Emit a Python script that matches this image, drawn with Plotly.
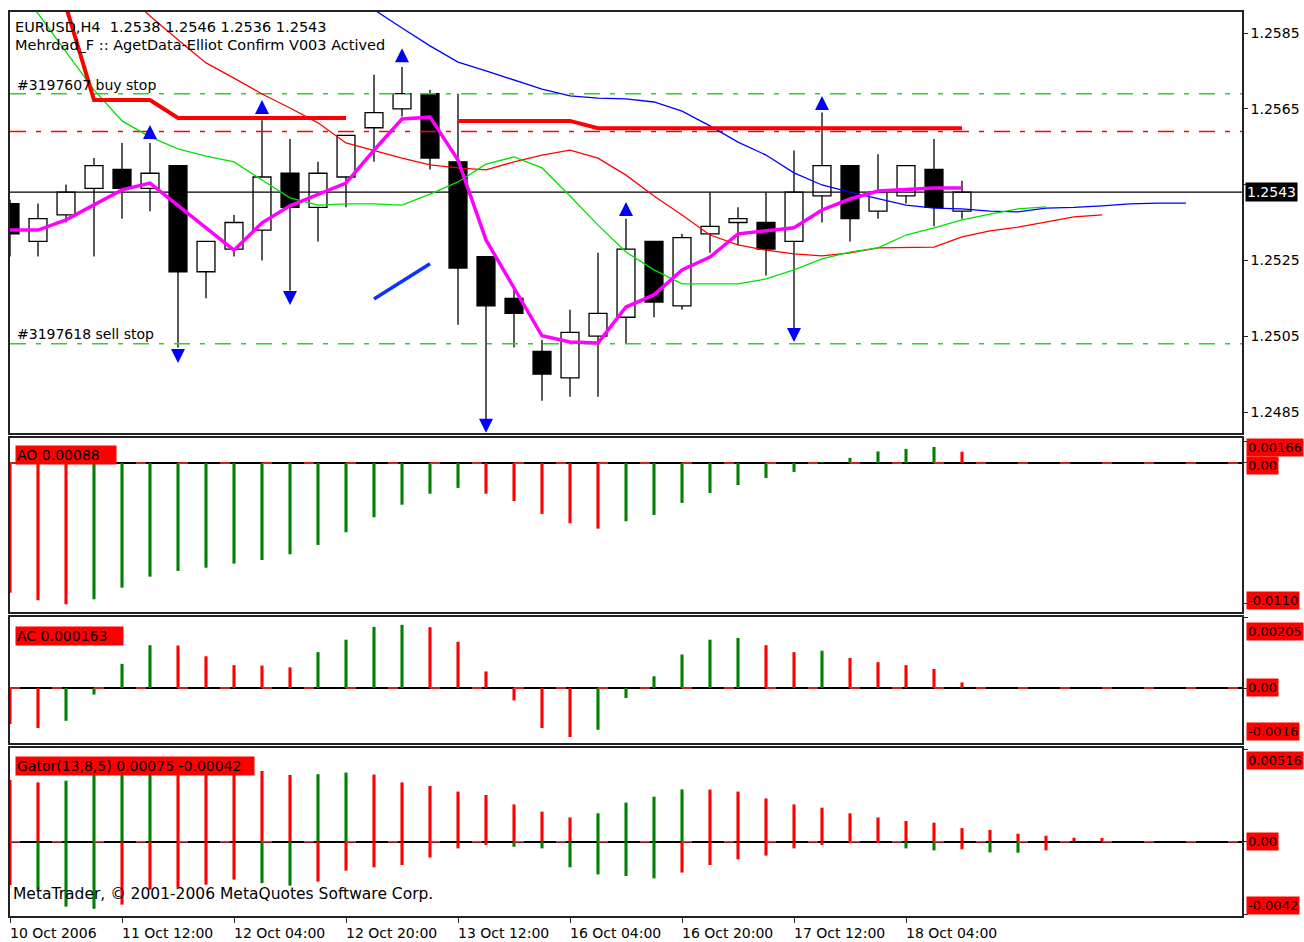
import plotly.graph_objects as go

W, H = 1304, 942
FONT = "DejaVu Sans"

# ---------------- data ----------------
bars = list(range(35))
opens = [1.2540, 1.2530, 1.2537, 1.2544, 1.2549, 1.2544, 1.2550, 1.2522, 1.2528, 1.2533,
         1.2548, 1.2539, 1.2547, 1.2560, 1.2565, 1.2569, 1.2551, 1.2526, 1.2515, 1.2501,
         1.2494, 1.2505, 1.2510, 1.2530, 1.2513, 1.2532, 1.2535, 1.2535, 1.2530, 1.2542,
         1.2550, 1.2538, 1.2542, 1.2549, 1.2538]
highs = [1.2541, 1.2540, 1.2545, 1.2552, 1.2556, 1.2556, 1.2550, 1.2530, 1.2537, 1.2562,
         1.2557, 1.2551, 1.2558, 1.2574, 1.2576, 1.2570, 1.2569, 1.2526, 1.2518, 1.2504,
         1.2512, 1.2527, 1.2536, 1.2530, 1.2532, 1.2543, 1.2539, 1.2543, 1.2554, 1.2564,
         1.2550, 1.2553, 1.2550, 1.2557, 1.2546]
lows = [1.2526, 1.2526, 1.2535, 1.2526, 1.2536, 1.2538, 1.2502, 1.2515, 1.2526, 1.2525,
        1.2517, 1.2530, 1.2539, 1.2551, 1.2563, 1.2549, 1.2508, 1.2482, 1.2502, 1.2488,
        1.2489, 1.2489, 1.2503, 1.2510, 1.2512, 1.2527, 1.2529, 1.2521, 1.2507, 1.2535,
        1.2530, 1.2536, 1.2540, 1.2534, 1.2536]
closes = [1.2532, 1.2536, 1.2543, 1.2550, 1.2544, 1.2548, 1.2522, 1.2530, 1.2535, 1.2547,
          1.2539, 1.2548, 1.2558, 1.2564, 1.2569, 1.2552, 1.2523, 1.2513, 1.2511, 1.2495,
          1.2506, 1.2511, 1.2528, 1.2514, 1.2531, 1.2534, 1.2536, 1.2528, 1.2543, 1.2550,
          1.2536, 1.2543, 1.2550, 1.2539, 1.2543]

magenta = [1.25330, 1.25330, 1.25357, 1.25396, 1.25436, 1.25454, 1.25396, 1.25336, 1.25277, 1.25349,
           1.25394, 1.25425, 1.25454, 1.25541, 1.25623, 1.25628, 1.25515, 1.25304, 1.25177, 1.25051,
           1.25035, 1.25032, 1.25127, 1.25159, 1.25225, 1.25259, 1.25320, 1.25328, 1.25336, 1.25383,
           1.25412, 1.25433, 1.25438, 1.25441, 1.25441]

teeth_x = list(range(4, 40))
teeth = [1.25963, 1.25895, 1.25832, 1.25771, 1.25731, 1.25689, 1.25652, 1.25613, 1.25560, 1.25539,
         1.25520, 1.25502, 1.25494, 1.25489, 1.25510, 1.25528, 1.25541, 1.25520, 1.25475, 1.25420,
         1.25370, 1.25317, 1.25291, 1.25277, 1.25267, 1.25262, 1.25270, 1.25283, 1.25285, 1.25285,
         1.25312, 1.25328, 1.25338, 1.25351, 1.25365, 1.25370]

lips_x = list(range(0, 38))
lips = [1.26003, 1.25900, 1.25800, 1.25700, 1.25618, 1.25576, 1.25544, 1.25525, 1.25510, 1.25462,
        1.25415, 1.25396, 1.25399, 1.25399, 1.25396, 1.25425, 1.25457, 1.25504, 1.25523, 1.25494,
        1.25420, 1.25343, 1.25272, 1.25225, 1.25188, 1.25188, 1.25188, 1.25201, 1.25225, 1.25254,
        1.25272, 1.25283, 1.25317, 1.25336, 1.25357, 1.25372, 1.25386, 1.25391]

jaw_x = list(range(12, 43))
jaw = [1.25960, 1.25911, 1.25863, 1.25816, 1.25773, 1.25750, 1.25726, 1.25702, 1.25684, 1.25678,
       1.25676, 1.25668, 1.25644, 1.25605, 1.25562, 1.25528, 1.25481, 1.25449, 1.25430, 1.25412,
       1.25396, 1.25388, 1.25386, 1.25380, 1.25378, 1.25388, 1.25390, 1.25394, 1.25399, 1.25401,
       1.25401]

stop_x = list(range(2, 35))
stop_line = [1.25920, 1.25673, 1.25673, 1.25673,
             1.25626, 1.25626, 1.25626, 1.25626, 1.25626, 1.25626, 1.25626,
             None, None, None,
             1.25618, 1.25618, 1.25618, 1.25618, 1.25618,
             1.25599, 1.25599, 1.25599, 1.25599, 1.25599, 1.25599, 1.25599,
             1.25599, 1.25599, 1.25599, 1.25599, 1.25599, 1.25599, 1.25599]

trend_x = [13, 15]
trend_y = [1.25148, 1.25241]

fr_up_x = [5, 9, 14, 22, 29]
fr_up_y = [1.25607, 1.25673, 1.25810, 1.25404, 1.25684]
fr_dn_x = [6, 10, 17, 28]
fr_dn_y = [1.24979, 1.25132, 1.24795, 1.25035]

buy_stop = 1.2569
red_level = 1.2559
sell_stop = 1.2503
last_price = 1.2543

price_ticks = [1.2485, 1.2505, 1.2525, 1.2545, 1.2565, 1.2585]
price_tick_text = ["1.2485", "1.2505", "1.2525", "", "1.2565", "1.2585"]

ao = [-0.01013, -0.01072, -0.01104, -0.01065, -0.00974, -0.00888, -0.00843, -0.00818, -0.00786, -0.00758,
      -0.00713, -0.00640, -0.00541, -0.00424, -0.00326, -0.00240, -0.00195, -0.00240, -0.00297, -0.00398,
      -0.00471, -0.00513, -0.00455, -0.00406, -0.00312, -0.00234, -0.00172, -0.00117, -0.00070, 0.00005,
      0.00040, 0.00090, 0.00110, 0.00125, 0.00088]

ac = [-0.00104, -0.00116, -0.00095, -0.00019, 0.00070, 0.00124, 0.00123, 0.00092, 0.00066, 0.00065,
      0.00060, 0.00104, 0.00140, 0.00177, 0.00183, 0.00176, 0.00134, 0.00048, -0.00036, -0.00116,
      -0.00142, -0.00121, -0.00029, 0.00034, 0.00097, 0.00140, 0.00145, 0.00124, 0.00104, 0.00108,
      0.00087, 0.00075, 0.00066, 0.00055, 0.000163]

gator_up_x = list(range(0, 40))
gator_up = [0.00341, 0.00328, 0.00337, 0.00387, 0.00431, 0.00465, 0.00453, 0.00437, 0.00415, 0.00391,
            0.00369, 0.00373, 0.00382, 0.00371, 0.00328, 0.00308, 0.00277, 0.00258, 0.00206, 0.00166,
            0.00134, 0.00157, 0.00216, 0.00249, 0.00289, 0.00288, 0.00277, 0.00239, 0.00206, 0.00188,
            0.00157, 0.00134, 0.00114, 0.00105, 0.00075, 0.00065, 0.00044, 0.00033, 0.00022, 0.00020]
gator_dn_x = list(range(0, 38))
gator_dn = [-0.00239, -0.00265, -0.00359, -0.00371, -0.00348, -0.00265, -0.00254, -0.00238, -0.00210, -0.00229,
            -0.00243, -0.00221, -0.00160, -0.00142, -0.00129, -0.00088, -0.00037, -0.00018, -0.00028, -0.00037,
            -0.00142, -0.00181, -0.00190, -0.00203, -0.00171, -0.00129, -0.00098, -0.00077, -0.00037, -0.00018,
            -0.00008, -0.00005, -0.00037, -0.00048, -0.00042, -0.00059, -0.00061, -0.00048]

tick_bars = [0, 4, 8, 12, 16, 20, 24, 28, 32]
tick_labels = ["10 Oct 2006", "11 Oct 12:00", "12 Oct 04:00", "12 Oct 20:00", "13 Oct 12:00",
               "16 Oct 04:00", "16 Oct 20:00", "17 Oct 12:00", "18 Oct 04:00"]

# ---------------- helpers ----------------
def px_x(p):
    return p / W

def px_y(p):
    return 1 - p / H

def hist_colors(vals, use_abs=False):
    cols = []
    for i, v in enumerate(vals):
        if i == 0:
            cols.append("#FF0000")
            continue
        a, b = (abs(v), abs(vals[i - 1])) if use_abs else (v, vals[i - 1])
        cols.append("#008000" if a > b else "#FF0000")
    return cols

X_RANGE = [0, 44]
dom_x = [10 / W, 1242 / W]
dom_main = [px_y(433), px_y(12)]
dom_ao = [px_y(612), px_y(438)]
dom_ac = [px_y(743), px_y(617)]
dom_gt = [px_y(916), px_y(748)]

fig = go.Figure()

# ---------------- main: candles ----------------
body_base = [min(o, c) for o, c in zip(opens, closes)]
body_h = [max(abs(c - o), 0.00003) for o, c in zip(opens, closes)]
body_col = ["white" if c >= o else "black" for o, c in zip(opens, closes)]
fig.add_trace(go.Bar(x=bars, y=body_h, base=body_base, width=0.64,
                     marker=dict(color=body_col, line=dict(color="black", width=1.3)),
                     xaxis="x", yaxis="y", hoverinfo="skip"))

wx, wy = [], []
for i, o, h, l, c in zip(bars, opens, highs, lows, closes):
    top, bot = max(o, c), min(o, c)
    if h > top:
        wx += [i, i, None]; wy += [top, h, None]
    if l < bot:
        wx += [i, i, None]; wy += [l, bot, None]
fig.add_trace(go.Scatter(x=wx, y=wy, mode="lines", line=dict(color="black", width=1.3),
                         xaxis="x", yaxis="y", hoverinfo="skip"))

DASHDOT = "16px,10px,5px,10px"
for lvl, col in [(buy_stop, "#33CC33"), (sell_stop, "#33CC33"), (red_level, "#FF0000")]:
    fig.add_trace(go.Scatter(x=X_RANGE, y=[lvl, lvl], mode="lines",
                             line=dict(color=col, width=1.5, dash=DASHDOT),
                             xaxis="x", yaxis="y", hoverinfo="skip"))
fig.add_trace(go.Scatter(x=X_RANGE, y=[last_price, last_price], mode="lines",
                         line=dict(color="black", width=1.2), xaxis="x", yaxis="y", hoverinfo="skip"))

fig.add_trace(go.Scatter(x=jaw_x, y=jaw, mode="lines", line=dict(color="#0000FF", width=1.3),
                         xaxis="x", yaxis="y", hoverinfo="skip"))
fig.add_trace(go.Scatter(x=teeth_x, y=teeth, mode="lines", line=dict(color="#FF0000", width=1.3),
                         xaxis="x", yaxis="y", hoverinfo="skip"))
fig.add_trace(go.Scatter(x=lips_x, y=lips, mode="lines", line=dict(color="#00E000", width=1.3),
                         xaxis="x", yaxis="y", hoverinfo="skip"))
fig.add_trace(go.Scatter(x=stop_x, y=stop_line, mode="lines", line=dict(color="#FF0000", width=4),
                         connectgaps=False, xaxis="x", yaxis="y", hoverinfo="skip"))
fig.add_trace(go.Scatter(x=bars, y=magenta, mode="lines", line=dict(color="#FF00FF", width=3.5),
                         xaxis="x", yaxis="y", hoverinfo="skip"))
fig.add_trace(go.Scatter(x=trend_x, y=trend_y, mode="lines", line=dict(color="#1030FF", width=3.5),
                         xaxis="x", yaxis="y", hoverinfo="skip"))
fig.add_trace(go.Scatter(x=fr_up_x, y=fr_up_y, mode="markers",
                         marker=dict(symbol="arrow-up", size=14, color="#0000FF"),
                         xaxis="x", yaxis="y", hoverinfo="skip"))
fig.add_trace(go.Scatter(x=fr_dn_x, y=fr_dn_y, mode="markers",
                         marker=dict(symbol="arrow-down", size=14, color="#0000FF"),
                         xaxis="x", yaxis="y", hoverinfo="skip"))

# ---------------- sub windows ----------------
fig.add_trace(go.Bar(x=bars, y=ao, width=0.11, marker=dict(color=hist_colors(ao), line=dict(width=0)),
                     xaxis="x2", yaxis="y2", hoverinfo="skip"))
fig.add_trace(go.Bar(x=bars, y=ac, width=0.11, marker=dict(color=hist_colors(ac), line=dict(width=0)),
                     xaxis="x3", yaxis="y3", hoverinfo="skip"))
fig.add_trace(go.Bar(x=gator_up_x, y=gator_up, width=0.11,
                     marker=dict(color=hist_colors(gator_up), line=dict(width=0)),
                     xaxis="x4", yaxis="y4", hoverinfo="skip"))
fig.add_trace(go.Bar(x=gator_dn_x, y=gator_dn, width=0.11,
                     marker=dict(color=hist_colors(gator_dn, use_abs=True), line=dict(width=0)),
                     xaxis="x4", yaxis="y4", hoverinfo="skip"))
for xa, ya in [("x2", "y2"), ("x3", "y3"), ("x4", "y4")]:
    fig.add_trace(go.Scatter(x=X_RANGE, y=[0, 0], mode="lines",
                             line=dict(color="#FF3030", width=1.5, dash="10px,32px"),
                             xaxis=xa, yaxis=ya, hoverinfo="skip"))

# ---------------- axes ----------------
ax_common = dict(range=X_RANGE, showgrid=False, zeroline=False, showline=True, mirror=True,
                 linecolor="#222", linewidth=1.5, showticklabels=False, fixedrange=True)
fig.update_layout(
    xaxis=dict(domain=dom_x, anchor="y", **ax_common),
    xaxis2=dict(domain=dom_x, anchor="y2", matches="x", **ax_common),
    xaxis3=dict(domain=dom_x, anchor="y3", matches="x", **ax_common),
    xaxis4=dict(domain=dom_x, anchor="y4", matches="x", ticks="outside", ticklen=5,
                tickcolor="#222", tickvals=tick_bars, **ax_common),
)

sub_common = dict(side="right", showgrid=False, showline=True, mirror=True, linecolor="#222",
                  linewidth=1.5, ticks="outside", ticklen=4, tickcolor="#222",
                  showticklabels=False, zeroline=True, zerolinecolor="black", zerolinewidth=1.5,
                  fixedrange=True)
fig.update_layout(
    yaxis=dict(domain=dom_main, anchor="x", side="right", range=[1.247946, 1.259054],
               showgrid=False, zeroline=False, showline=True, mirror=True, linecolor="#222",
               linewidth=1.5, ticks="outside", ticklen=4, tickcolor="#222",
               tickvals=price_ticks, ticktext=price_tick_text, fixedrange=True,
               tickfont=dict(family=FONT, size=14, color="black")),
    yaxis2=dict(domain=dom_ao, anchor="x2", range=[-0.01164, 0.00195],
                tickvals=[-0.0110, 0, 0.00166], **sub_common),
    yaxis3=dict(domain=dom_ac, anchor="x3", range=[-0.001593, 0.002057],
                tickvals=[-0.0016, 0, 0.00205], **sub_common),
    yaxis4=dict(domain=dom_gt, anchor="x4", range=[-0.00411, 0.00518],
                tickvals=[-0.0040, 0, 0.00510], **sub_common),
)

# ---------------- texts ----------------
ann = []

def txt(x, y, s, size=14, color="black", bg=None, xanchor="left", width=None):
    d = dict(x=px_x(x), y=px_y(y), xref="paper", yref="paper", text=s, showarrow=False,
             xanchor=xanchor, yanchor="middle", font=dict(family=FONT, size=size, color=color),
             borderpad=1)
    if bg:
        d["bgcolor"] = bg
    if width:
        d["width"] = width
        d["align"] = "left"
    ann.append(d)

txt(13, 27, "EURUSD,H4  1.2538 1.2546 1.2536 1.2543", size=14.5)
txt(13, 45, "Mehrdad_F :: AgetData-Elliot Confirm V003 Actived", size=14.5)
txt(15, 85, "#3197607 buy stop")
txt(15, 334, "#3197618 sell stop")
txt(11, 894, "MetaTrader, © 2001-2006 MetaQuotes Software Corp.", size=15.5)

txt(1245, 192, "1.2543", color="white", bg="black")

txt(15, 455, "AO 0.00088", bg="#FF0000", width=98)
txt(15, 636, "AC 0.000163", bg="#FF0000", width=105)
txt(15, 766, "Gator(13,8,5) 0.00075 -0.00042", bg="#FF0000", width=236)

txt(1246, 447, "0.00166", size=13, bg="#FF0000")
txt(1246, 465, "0.00", size=13, bg="#FF0000")
txt(1246, 600, "-0.0110", size=13, bg="#FF0000")
txt(1246, 631, "0.00205", size=13, bg="#FF0000")
txt(1246, 687, "0.00", size=13, bg="#FF0000")
txt(1246, 731, "-0.0016", size=13, bg="#FF0000")
txt(1246, 760, "0.00516", size=13, bg="#FF0000")
txt(1246, 841, "0.00", size=13, bg="#FF0000")
txt(1246, 905, "-0.0042", size=13, bg="#FF0000")

for b, lab in zip(tick_bars, tick_labels):
    ann.append(dict(x=b, y=px_y(933), xref="x4", yref="paper", text=lab, showarrow=False,
                    xanchor="left", yanchor="middle", xshift=-2,
                    font=dict(family=FONT, size=14, color="black")))

fig.update_layout(
    width=W, height=H, autosize=False,
    margin=dict(l=0, r=0, t=0, b=0),
    paper_bgcolor="white", plot_bgcolor="white",
    showlegend=False, barmode="overlay",
    annotations=ann,
    font=dict(family=FONT, size=14, color="black"),
)

fig.write_html("out.html", config={"displayModeBar": False},
               post_script="document.body.style.margin='0';document.body.style.overflow='hidden';")
